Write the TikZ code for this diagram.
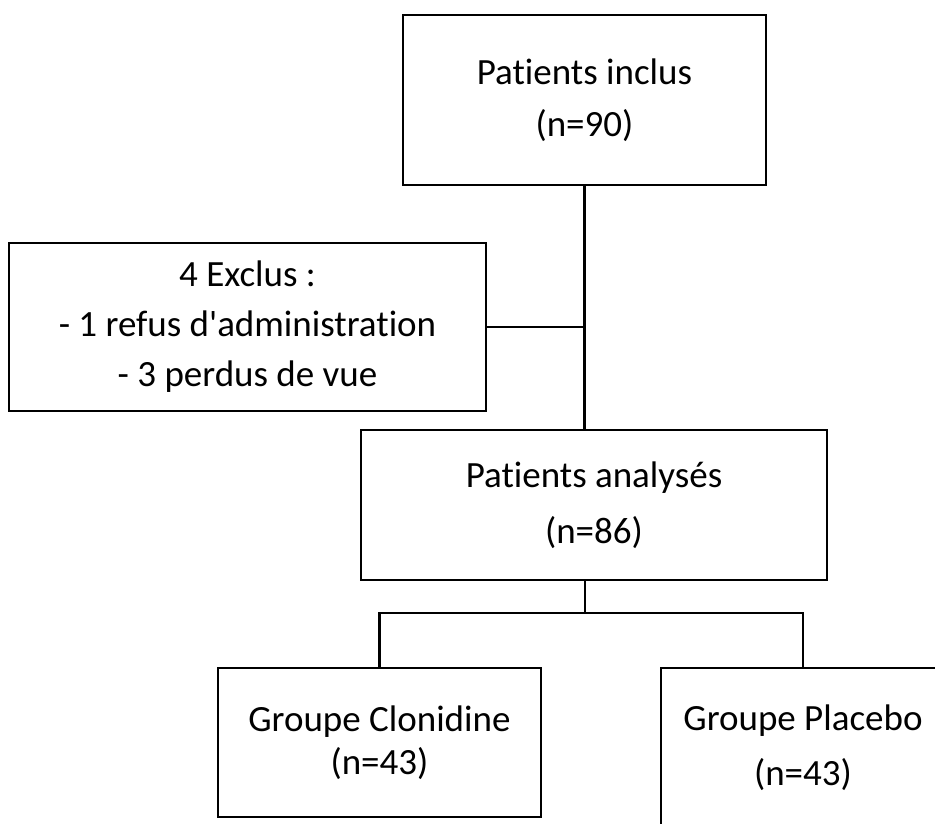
\documentclass[tikz,border=0pt]{standalone}
\usepackage{fontspec}
\setmainfont{Carlito}[Ligatures=NoCommon]
\usepackage{tikz}

\begin{document}
\begin{tikzpicture}[x=1pt, y=-1pt,
    every node/.style = {draw, line width=2.6pt, align=center, inner sep=0pt,
      font=\fontsize{37}{44}\selectfont},
    link/.style = {line width=#1}
  ]
  \useasboundingbox (0,0) rectangle (935,823);

  \node[minimum width=363pt, minimum height=170pt] (inclus) at (584.5,100)
    {Patients inclus\\[8pt] (n=90)};
  \node[minimum width=477pt, minimum height=168pt] (exclus) at (247.5,327)
    {4 Exclus :\\[6pt] - 1 refus d\textquotesingle administration\\[6pt] - 3 perdus de vue};
  \node[minimum width=466pt, minimum height=150pt] (analyses) at (594,505)
    {Patients analysés\\[12pt] (n=86)};
  \node[minimum width=323pt, minimum height=149pt] (clonidine) at (379.5,742.5)
    {Groupe Clonidine\\[-1pt] (n=43)};
  \node[minimum width=284pt, minimum height=160pt] (placebo) at (803,748)
    {Groupe Placebo\\[11pt] (n=43)};

  \coordinate (split) at (585,613);

  \draw[link=2.6pt] (inclus.south) -- (inclus.south |- analyses.north);
  \draw[link=1.8pt] (exclus.east) -- (exclus.east -| inclus.south);
  \draw[link=2.2pt] (analyses.south -| split) -- (split);
  \draw[link=2.2pt] (clonidine.north) |- (split) -| (placebo.north);
\end{tikzpicture}
\end{document}
